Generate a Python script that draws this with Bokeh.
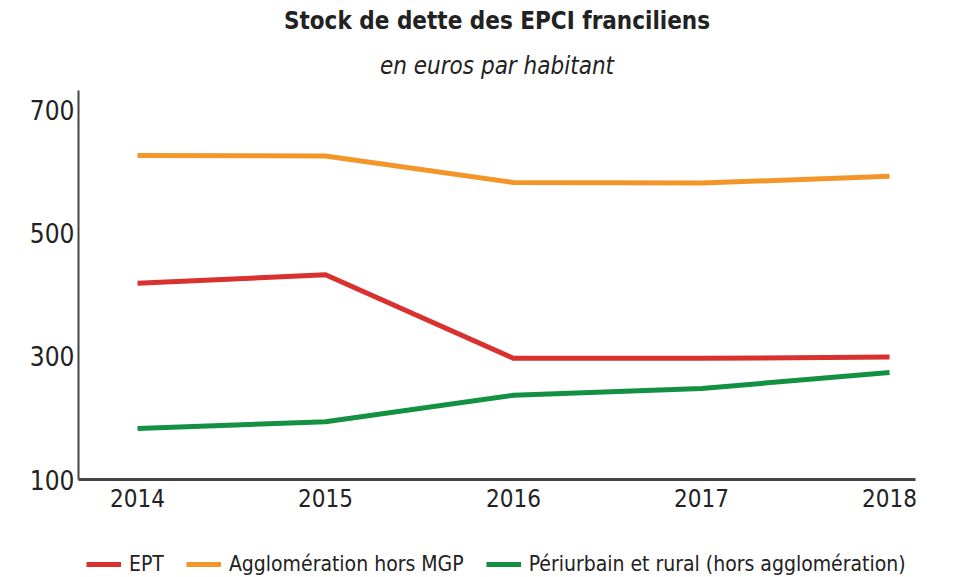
from bokeh.plotting import figure
from bokeh.models import FixedTicker, Range1d, Title, Legend, LegendItem
from bokeh.layouts import column
from bokeh.embed import file_html
from bokeh.resources import INLINE

years = [2014, 2015, 2016, 2017, 2018]
ept = [419, 433, 297, 297, 299]
agglo = [627, 626, 583, 582, 593]
peri = [183, 194, 237, 248, 274]
y_ticks = [100, 300, 500, 700]
series_names = ["EPT", "Agglomération hors MGP", "Périurbain et rural (hors agglomération)"]
series_colors = ["#d8312e", "#f3962a", "#139142"]

FONT = "DejaVu Sans Condensed"

p = figure(width=977, height=525, output_backend="svg", toolbar_location=None,
           x_range=Range1d(2013.686, 2018.138), y_range=Range1d(100, 732.5),
           min_border_left=78, min_border_right=62, min_border_top=90, min_border_bottom=46)
p.outline_line_color = None
p.grid.visible = False

p.add_layout(Title(text="en euros par habitant", text_font=FONT, text_font_style="italic",
                   text_font_size="24px", align="center", text_color="#222222",
                   offset=0, standoff=22), "above")
p.add_layout(Title(text="Stock de dette des EPCI franciliens", text_font=FONT,
                   text_font_style="bold", text_font_size="24px", align="center",
                   text_color="#222222", standoff=7), "above")

for vals, col in zip([ept, agglo, peri], series_colors):
    p.line(years, vals, line_color=col, line_width=5, line_join="round")

p.xaxis.ticker = FixedTicker(ticks=years)
p.yaxis.ticker = FixedTicker(ticks=y_ticks)
for ax in (p.xaxis, p.yaxis):
    ax.major_tick_line_color = None
    ax.minor_tick_line_color = None
    ax.major_tick_out = 0
    ax.major_tick_in = 0
    ax.major_label_text_font = FONT
    ax.major_label_text_color = "#222222"
p.xaxis.axis_line_width = 3
p.xaxis.axis_line_color = "#444444"
p.yaxis.axis_line_width = 2
p.yaxis.axis_line_color = "#444444"
p.xaxis.major_label_text_font_size = "24px"
p.yaxis.major_label_text_font_size = "26px"
p.xaxis.major_label_standoff = 9
p.yaxis.major_label_standoff = 4

# legend strip below the chart (series drawn out of view, only legend swatches show)
lg = figure(width=977, height=52, output_backend="svg", toolbar_location=None,
            x_range=Range1d(0, 1), y_range=Range1d(0, 1),
            min_border=0, min_border_left=0, min_border_right=0,
            min_border_top=0, min_border_bottom=0)
lg.axis.visible = False
lg.grid.visible = False
lg.outline_line_color = None
items = []
for name, vals, col in zip(series_names, [ept, agglo, peri], series_colors):
    r = lg.line(years, vals, line_color=col, line_width=5)
    items.append(LegendItem(label=name, renderers=[r]))
legend = Legend(items=items, orientation="horizontal", location=(8, 1),
                label_text_font=FONT, label_text_font_size="21px", label_text_color="#222222",
                glyph_width=35, glyph_height=20, label_standoff=8, spacing=22,
                padding=0, margin=0, border_line_color=None, background_fill_alpha=0)
lg.add_layout(legend, "center")

layout = column(p, lg, spacing=0)
open("out.html", "w").write(file_html(layout, INLINE))
